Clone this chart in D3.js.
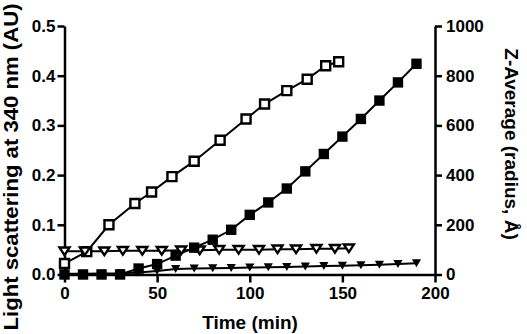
<!DOCTYPE html>
<html>
<head>
<meta charset="utf-8">
<script src="https://cdn.jsdelivr.net/npm/d3@7"></script>
<style>
  body { margin: 0; background: #fff; }
  text { font-family: "Liberation Sans", Arial, sans-serif; font-weight: bold; fill: #000; }
</style>
</head>
<body>
<script>
const width = 527, height = 334;

// light scattering, open squares (left axis)
const openSqTime = [0, 12, 24, 38, 47, 58, 70, 84, 98, 108, 120, 131, 141, 148];
const openSqVal = [0.022, 0.046, 0.1, 0.143, 0.166, 0.197, 0.228, 0.27, 0.313, 0.343, 0.37, 0.393, 0.42, 0.428];

// light scattering, open triangles (left axis)
const openTriTime = [0, 11, 21.5, 31.5, 42, 52.5, 63, 73, 83.5, 94, 105, 115, 125, 136, 146, 153.5];
const openTriVal = [0.047, 0.047, 0.047, 0.048, 0.048, 0.048, 0.049, 0.049, 0.05, 0.05, 0.05, 0.051, 0.051, 0.052, 0.052, 0.053];

// Z-average, filled squares (right axis)
const filledSqTime = [0, 10, 20, 30, 40, 50, 60, 70, 80, 90, 100, 110, 120, 130, 140, 150, 160, 170, 180, 190];
const filledSqVal = [0, 0, 0, 0, 24, 42, 76, 108, 140, 180, 240, 290, 346, 415, 485, 555, 626, 700, 773, 848];

// Z-average, filled triangles (right axis)
const filledTriTime = [0, 10, 20, 30, 40, 50, 60, 70, 80, 90, 100, 110, 120, 130, 140, 150, 160, 170, 180, 190];
const filledTriVal = [3, 3, 4, 5, 8, 14, 22, 24, 25, 26, 28, 29, 30, 32, 34, 35, 37, 39, 42, 45];

const xTicks = [0, 50, 100, 150, 200];
const yLeftTicks = [0, 0.1, 0.2, 0.3, 0.4, 0.5];
const yRightTicks = [0, 200, 400, 600, 800, 1000];

const svg = d3.select("body").append("svg").attr("width", width).attr("height", height);

const x = d3.scaleLinear().domain([0, 200]).range([64.5, 435]);
const yL = d3.scaleLinear().domain([0, 0.5]).range([274.5, 26]);
const yR = d3.scaleLinear().domain([0, 1000]).range([274.5, 26]);

function styleAxis(g) {
    g.selectAll("path, line").attr("stroke", "#000").attr("stroke-width", 2.5);
    g.selectAll("text").attr("font-size", 17).attr("font-family", null);
}

svg.append("g").attr("transform", "translate(0,274.5)")
    .call(d3.axisBottom(x).tickValues(xTicks).tickSize(8).tickSizeOuter(0).tickPadding(4))
    .call(styleAxis);

svg.append("g").attr("transform", "translate(64.5,0)")
    .call(d3.axisLeft(yL).tickValues(yLeftTicks).tickFormat(d3.format(".1f")).tickSize(7).tickSizeOuter(0).tickPadding(2))
    .call(styleAxis);

svg.append("g").attr("transform", "translate(435,0)")
    .call(d3.axisRight(yR).tickValues(yRightTicks).tickFormat(d3.format("d")).tickSize(7).tickSizeOuter(0).tickPadding(4))
    .call(styleAxis);

// axis titles
svg.append("text").attr("x", 250).attr("y", 329).attr("text-anchor", "middle")
    .attr("font-size", 19).text("Time (min)");
svg.append("text").attr("transform", "translate(18,167) rotate(-90)").attr("text-anchor", "middle")
    .attr("font-size", 21).attr("textLength", 327).attr("lengthAdjust", "spacingAndGlyphs")
    .text("Light scattering at 340 nm (AU)");
svg.append("text").attr("transform", "translate(505,144) rotate(90)").attr("text-anchor", "middle")
    .attr("font-size", 19).text("Z-Average (radius, Å)");

const series = [
    { t: openSqTime, v: openSqVal, y: yL, shape: "square", fill: "#fff" },
    { t: openTriTime, v: openTriVal, y: yL, shape: "tri", fill: "#fff" },
    { t: filledTriTime, v: filledTriVal, y: yR, shape: "tri", fill: "#000" },
    { t: filledSqTime, v: filledSqVal, y: yR, shape: "square", fill: "#000" }
];

const line = d3.line();
series.forEach(s => {
    const pts = s.t.map((t, i) => [x(t), s.y(s.v[i])]);
    svg.append("path").attr("d", line(pts)).attr("fill", "none")
        .attr("stroke", "#000").attr("stroke-width", 2);
});

series.forEach(s => {
    const pts = s.t.map((t, i) => [x(t), s.y(s.v[i])]);
    const open = s.fill === "#fff";
    let d;
    if (s.shape === "square") d = open ? "M-4.5,-4.5H4.5V4.5H-4.5Z" : "M-5.2,-5.2H5.2V5.2H-5.2Z";
    else d = open ? "M-5,-3.6L5,-3.6L0,4Z" : "M-4.6,-4L4.6,-4L0,4Z";
    svg.append("g").selectAll("path").data(pts).enter().append("path")
        .attr("d", d)
        .attr("transform", p => `translate(${p[0]},${p[1]})`)
        .attr("fill", s.fill)
        .attr("stroke", "#000")
        .attr("stroke-width", open ? 2.4 : 0);
});
</script>
</body>
</html>
